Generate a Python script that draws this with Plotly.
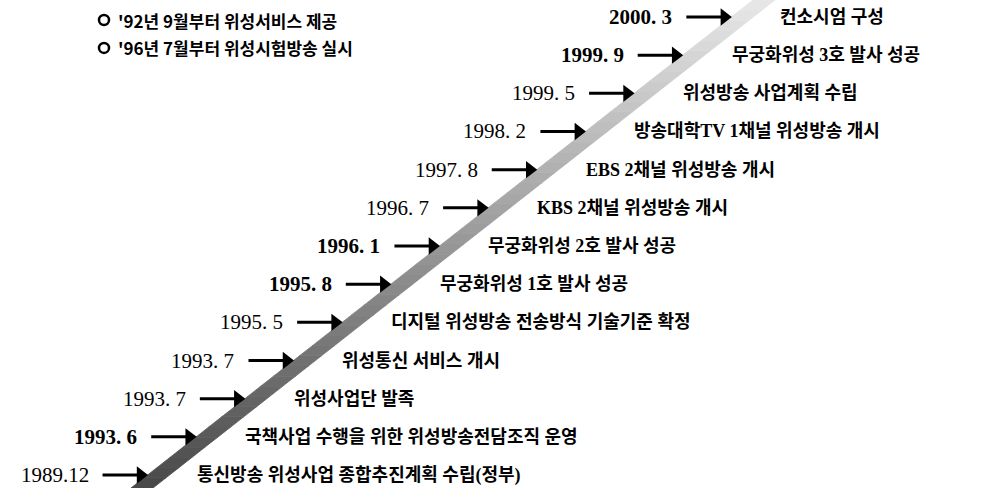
import plotly.graph_objects as go
import numpy as np

# ---- data (bottom row first) ----
dates = ["1989.12", "1993. 6", "1993. 7", "1993. 7", "1995. 5", "1995. 8", "1996. 1",
         "1996. 7", "1997. 8", "1998. 2", "1999. 5", "1999. 9", "2000. 3"]
bold_dates = [False, True, False, False, False, True, True,
              False, False, False, False, True, True]
events = [
    "통신방송 위성사업 종합추진계획 수립(정부)",
    "국책사업 수행을 위한 위성방송전담조직 운영",
    "위성사업단 발족",
    "위성통신 서비스 개시",
    "디지털 위성방송 전송방식 기술기준 확정",
    "무궁화위성 1호 발사 성공",
    "무궁화위성 2호 발사 성공",
    "KBS 2채널 위성방송 개시",
    "EBS 2채널 위성방송 개시",
    "방송대학TV 1채널 위성방송 개시",
    "위성방송 사업계획 수립",
    "무궁화위성 3호 발사 성공",
    "컨소시엄 구성",
]
notes = ["'92년 9월부터 위성서비스 제공", "'96년 7월부터 위성시험방송 실시"]

# ---- layout geometry ----
W, H = 981, 488
Y0, Y1 = -0.34, 12.445          # y-axis range (row units)
SX0, SX1 = 142, 764             # stripe centre x at bottom / top edge of plot
HALF_W = 11                     # half horizontal width of the stripe (px)


def stripe_x(y):
    return SX0 + (SX1 - SX0) * (y - Y0) / (Y1 - Y0)


rows = list(range(len(dates)))
ARROW_LEN = 44
TIP_OFF = 12
DATE_GAP = 12
EVENT_GAP = 36

fig = go.Figure()

# diagonal gradient stripe built from thin parallelogram bands
shapes = []
N = 48
ts = np.linspace(0, 1, N + 1)
for k in range(N):
    ta, tb = ts[k], ts[k + 1]
    ya = Y0 + (Y1 - Y0) * ta
    yb = Y0 + (Y1 - Y0) * tb
    g = int(72 + 160 * (ta + tb) / 2)
    col = f"rgb({g},{g},{g})"
    xa, xb = stripe_x(ya), stripe_x(yb)
    path = (f"M {xa - HALF_W},{ya} L {xa + HALF_W},{ya} "
            f"L {xb + HALF_W},{yb} L {xb - HALF_W},{yb} Z")
    shapes.append(dict(type="path", xref="x", yref="y", path=path,
                       fillcolor=col, line=dict(color=col, width=0.8),
                       layer="below"))

# arrows
sx, sy, hx, hy = [], [], [], []
annotations = []
for i, d, b, e in zip(rows, dates, bold_dates, events):
    xc = stripe_x(i)
    tip = xc - TIP_OFF
    start = tip - ARROW_LEN
    sx += [start, tip - 8, None]
    sy += [i, i, None]
    hx.append(tip - 6)
    hy.append(i)
    annotations.append(dict(x=start - DATE_GAP, y=i, xref="x", yref="y",
                            text=f"<b>{d}</b>" if b else d, showarrow=False,
                            xanchor="right", yanchor="middle",
                            font=dict(family="Liberation Serif", size=21, color="black")))
    annotations.append(dict(x=xc + EVENT_GAP, y=i, xref="x", yref="y",
                            text=f"<b>{e}</b>", showarrow=False,
                            xanchor="left", yanchor="middle",
                            font=dict(family="Liberation Serif, Noto Sans CJK KR",
                                      size=18, color="black")))

fig.add_trace(go.Scatter(x=sx, y=sy, mode="lines",
                         line=dict(color="black", width=3),
                         hoverinfo="skip", showlegend=False))
fig.add_trace(go.Scatter(x=hx, y=hy, mode="markers",
                         marker=dict(symbol="triangle-right", size=15, color="black"),
                         hoverinfo="skip", showlegend=False))

# header notes
note_y = [11.92, 11.19]
fig.add_trace(go.Scatter(x=[104, 104], y=note_y, mode="markers",
                         marker=dict(symbol="circle-open", size=10, color="black",
                                     line=dict(color="black", width=2.5)),
                         hoverinfo="skip", showlegend=False))
for ny, t in zip(note_y, notes):
    annotations.append(dict(x=116, y=ny, xref="x", yref="y", text=f"<b>{t}</b>",
                            showarrow=False, xanchor="left", yanchor="middle",
                            font=dict(family="Noto Sans CJK KR", size=17, color="black")))

fig.update_layout(
    width=W, height=H,
    margin=dict(l=0, r=0, t=0, b=0),
    paper_bgcolor="white", plot_bgcolor="white",
    xaxis=dict(range=[0, W], visible=False, fixedrange=True),
    yaxis=dict(range=[Y0, Y1], visible=False, fixedrange=True),
    shapes=shapes, annotations=annotations,
    showlegend=False,
)

fig.write_html("out.html",
               config={"displayModeBar": False},
               post_script="document.body.style.margin='0';"
                           "document.documentElement.style.overflow='hidden';")
